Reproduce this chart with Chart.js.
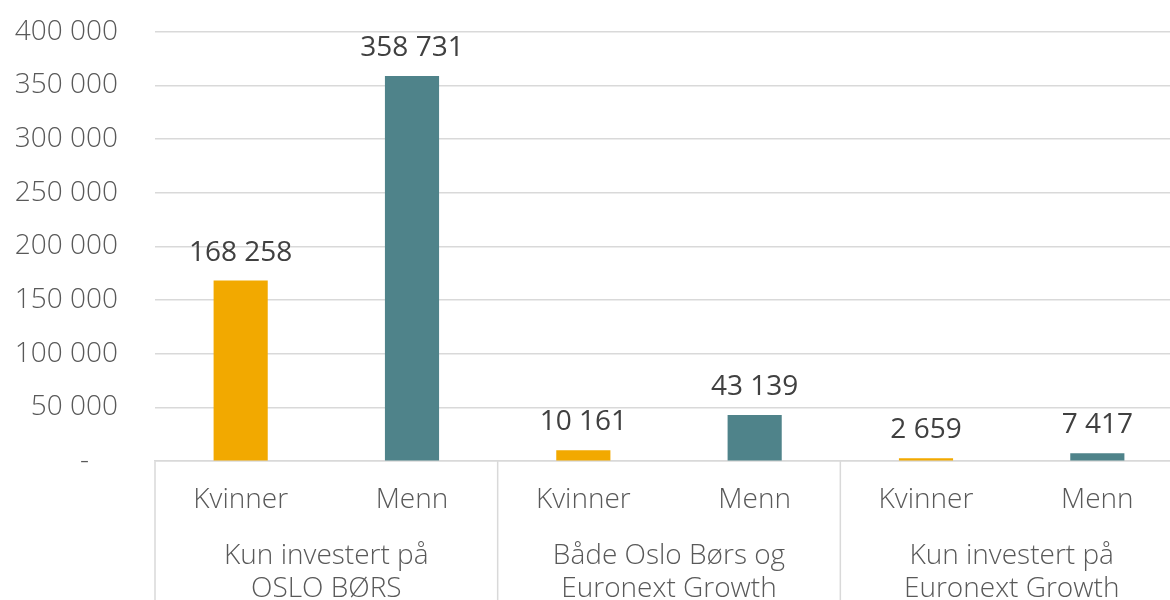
<!DOCTYPE html>
<html>
<head>
<meta charset="utf-8">
<script src="https://cdn.jsdelivr.net/npm/chart.js@4"></script>
<style>
  html, body { margin: 0; padding: 0; background: #fff; overflow: hidden; }
  #investors-chart { display: block; margin-top: -22px; }
</style>
</head>
<body>
<canvas id="investors-chart" width="1183" height="628"></canvas>
<script>
// data
const subLabels = ['Kvinner', 'Menn', 'Kvinner', 'Menn', 'Kvinner', 'Menn'];
const groupLabels = [
  ['Kun investert på', 'OSLO BØRS'],
  ['Både Oslo Børs og', 'Euronext Growth'],
  ['Kun investert på', 'Euronext Growth'],
];
const investorCounts = [168258, 358731, 10161, 43139, 2659, 7417];
const yTicks = [0, 50000, 100000, 150000, 200000, 250000, 300000, 350000, 400000];

const ORANGE = '#f2a900';
const TEAL = '#4f838a';
const GRID = '#d9d9d9';

const fmt = (v) => String(v).replace(/\B(?=(\d{3})+(?!\d))/g, ' ');

// value labels above the bars
const valueLabels = {
  id: 'valueLabels',
  afterDatasetsDraw(chart) {
    const ctx = chart.ctx;
    const meta = chart.getDatasetMeta(0);
    ctx.save();
    ctx.font = '400 28px "Open Sans"';
    ctx.fillStyle = '#404040';
    ctx.textAlign = 'center';
    ctx.textBaseline = 'bottom';
    meta.data.forEach((bar, i) => {
      ctx.fillText(fmt(investorCounts[i]), bar.x, bar.y - 14);
    });
    ctx.restore();
  }
};

// vertical separators between the groups in the category area
const groupSeparators = {
  id: 'groupSeparators',
  afterDraw(chart) {
    const ctx = chart.ctx;
    const x = chart.scales.x;
    const area = chart.chartArea;
    const xs = [area.left];
    for (let i = 1; i < subLabels.length - 1; i += 2) {
      xs.push((x.getPixelForValue(i) + x.getPixelForValue(i + 1)) / 2);
    }
    xs.push(area.right);
    ctx.save();
    ctx.strokeStyle = GRID;
    ctx.lineWidth = 1.5;
    xs.forEach((px) => {
      ctx.beginPath();
      ctx.moveTo(px, area.bottom);
      ctx.lineTo(px, chart.height);
      ctx.stroke();
    });
    ctx.restore();
  }
};

const axisFont = { family: 'Open Sans', size: 28, weight: 300 };

const ctx = document.getElementById('investors-chart').getContext('2d');
new Chart(ctx, {
  type: 'bar',
  data: {
    labels: subLabels,
    datasets: [{
      data: investorCounts,
      backgroundColor: subLabels.map((l) => (l === 'Kvinner' ? ORANGE : TEAL)),
      categoryPercentage: 1,
      barPercentage: 0.316,
    }]
  },
  options: {
    responsive: false,
    animation: false,
    layout: { padding: { top: 0, left: 0, right: 0, bottom: 0 } },
    plugins: {
      legend: { display: false },
      tooltip: { enabled: false },
    },
    scales: {
      x: {
        grid: { display: false },
        border: { display: true, color: GRID, width: 1.5 },
        ticks: {
          padding: 14,
          color: '#595959',
          font: axisFont,
        },
      },
      x2: {
        type: 'category',
        labels: groupLabels,
        position: 'bottom',
        grid: { display: false },
        border: { display: false },
        ticks: {
          padding: 0,
          color: '#595959',
          font: { ...axisFont, lineHeight: 1.2 },
        },
      },
      y: {
        min: 0,
        max: 400000,
        afterFit: (scale) => { scale.width = 155; },
        afterBuildTicks: (scale) => { scale.ticks = yTicks.map((v) => ({ value: v })); },
        grid: { color: GRID, lineWidth: 1.5, drawTicks: false },
        border: { display: false },
        ticks: {
          padding: 37,
          color: '#595959',
          font: axisFont,
          callback: (v) => (v === 0 ? '-    ' : fmt(v)),
        },
      },
    },
  },
  plugins: [valueLabels, groupSeparators],
});
</script>
</body>
</html>
